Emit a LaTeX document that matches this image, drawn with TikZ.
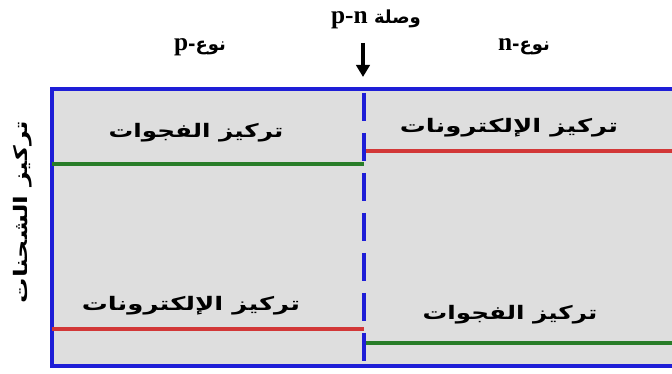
\documentclass[tikz,border=0pt]{standalone}
\usepackage{fontspec}
\setmainfont{Liberation Serif}
\newfontfamily\arabicfont[Script=Arabic]{DejaVu Sans}
\TeXXeTstate=1
\usetikzlibrary{arrows.meta}
\definecolor{panelgray}{RGB}{222,222,222}
\definecolor{edgeblue}{RGB}{30,30,215}
\definecolor{holegreen}{RGB}{40,125,40}
\definecolor{elecred}{RGB}{210,55,55}
\newcommand{\wide}[2]{\scalebox{#1}[1]{#2}}
\newcommand{\latinpart}{\rmfamily\bfseries\fontsize{19}{21}\selectfont}
\tikzset{
  lbl/.style={inner sep=0pt, font=\arabicfont\bfseries\fontsize{14}{16}\selectfont},
  head/.style={inner sep=0pt, font=\arabicfont\bfseries\fontsize{13.5}{15}\selectfont},
  level/.style={line width=2.3pt},
}
\begin{document}
\begin{tikzpicture}[x=0.75pt,y=-0.75pt]
  \useasboundingbox (0,0) rectangle (672,374);
  % semiconductor bar, open on the right
  \fill[panelgray] (52,89) rectangle (672,366);
  \draw[edgeblue, line width=2.3pt] (672,89) -- (52,89) -- (52,366) -- (672,366);
  % junction plane
  \coordinate (jtop) at (364,89);
  \coordinate (jbot) at (364,366);
  \draw[edgeblue, line width=2.7pt, dash pattern=on 21pt off 9pt, dash phase=27pt] (jtop) -- (jbot);
  % concentration levels
  \coordinate (pL1) at (52,164);  \coordinate (pR1) at (364,164);
  \coordinate (nL1) at (366,151); \coordinate (nR1) at (672,151);
  \coordinate (pL2) at (52,329);  \coordinate (pR2) at (364,329);
  \coordinate (nL2) at (366,343); \coordinate (nR2) at (672,343);
  \draw[level, holegreen] (pL1) -- (pR1);
  \draw[level, elecred] (nL1) -- (nR1);
  \draw[level, elecred] (pL2) -- (pR2);
  \draw[level, holegreen] (nL2) -- (nR2);
  % labels inside the bar
  \node[lbl] (hp) at (196,133) {\wide{1.32}{\beginR تركيز الفجوات\endR}};
  \node[lbl] (en) at (509,128) {\wide{1.39}{\beginR تركيز الإلكترونات\endR}};
  \node[lbl] (ep) at (191,306) {\wide{1.39}{\beginR تركيز الإلكترونات\endR}};
  \node[lbl] (hn) at (510,315) {\wide{1.32}{\beginR تركيز الفجوات\endR}};
  % axis label
  \node[lbl, rotate=90] (ax) at (23,212) {\wide{1.36}{\beginR تركيز الشحنات\endR}};
  % region headings
  \node[head] (ptype) at (200,47) {\beginR نوع-\beginL\latinpart p\endL\endR};
  \node[head] (ntype) at (524,47) {\beginR نوع-\beginL\latinpart n\endL\endR};
  \node[head] (junc) at (376,19) {\beginR وصلة \beginL\latinpart p-n\endL\endR};
  \coordinate (atop) at (363,43);
  \coordinate (abot) at (363,77);
  \draw[line width=2.4pt, -{Triangle[length=9pt,width=10pt]}] (atop) -- (abot);
\end{tikzpicture}
\end{document}
